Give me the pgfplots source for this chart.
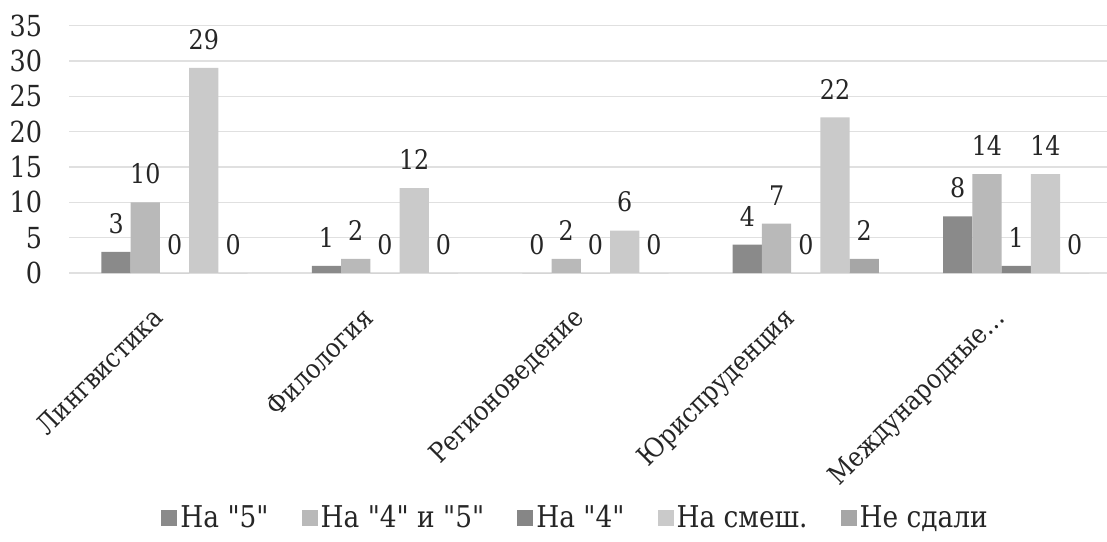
\documentclass[border=0pt]{standalone}
\usepackage{fontspec}
\setmainfont{DejaVu Serif}[Ligatures=NoCommon]
\newfontfamily\ser{DejaVu Serif}[FakeStretch=0.88]
\usepackage{pgfplots}
\pgfplotsset{compat=1.18}
\definecolor{cA}{HTML}{8A8A8A}
\definecolor{cB}{HTML}{B9B9B9}
\definecolor{cC}{HTML}{868686}
\definecolor{cD}{HTML}{CACACA}
\definecolor{cE}{HTML}{A6A6A6}
\begin{document}
\begin{tikzpicture}
\begin{axis}[
  at={(0pt,0pt)}, anchor=south west,
  x=105.2pt, y=3.535pt,
  xmin=-0.5, xmax=4.43, ymin=0, ymax=35,
  ybar, bar width=0.139,
  axis line style={draw=none},
  major tick length=0pt,
  ytick={0,5,...,35},
  xtick={0,1,2,3,4},
  xticklabels={Лингвистика,Филология,Регионоведение,Юриспруденция,Международные…},
  ymajorgrids, grid style={black!12, line width=0.6pt},
  /pgf/number format/assume math mode=true,
  yticklabel style={font=\ser\fontsize{14.5}{17}\selectfont, anchor=east, inner sep=0pt, xshift=-13.5pt, text=black!85},
  xticklabel style={font=\ser\fontsize{13.5}{16}\selectfont, rotate=45, anchor=north east, inner sep=0pt, xshift=-20pt, yshift=-2.8pt, text=black!85},
  nodes near coords,
  nodes near coords style={font=\ser\fontsize{13.5}{16}\selectfont, anchor=south, inner sep=0pt, yshift=9pt, text=black!85},
  clip=false,
  legend columns=5,
  legend style={draw=none, fill=none, at={(0.4885,-0.99)}, anchor=center,
    font=\ser\fontsize{15}{18}\selectfont, text=black!85,
    nodes={inner sep=1.5pt},
    /tikz/every even column/.append style={column sep=15pt}},
  legend image code/.code={\fill[#1,draw=none] (0pt,-4pt) rectangle (8pt,4pt);},
]
\addplot[fill=cA, draw=none, bar shift=-0.278] coordinates {(0,3) (1,1) (2,0) (3,4) (4,8)};
\addplot[fill=cB, draw=none, bar shift=-0.139] coordinates {(0,10) (1,2) (2,2) (3,7) (4,14)};
\addplot[fill=cC, draw=none, bar shift=0] coordinates {(0,0) (1,0) (2,0) (3,0) (4,1)};
\addplot[fill=cD, draw=none, bar shift=0.139] coordinates {(0,29) (1,12) (2,6) (3,22) (4,14)};
\addplot[fill=cE, draw=none, bar shift=0.278] coordinates {(0,0) (1,0) (2,0) (3,2) (4,0)};
\legend{На \char34 5\char34,На \char34 4\char34\ и \char34 5\char34,На \char34 4\char34,На смеш.,Не сдали}
\end{axis}
\pgfresetboundingbox
\path[use as bounding box] (-34.7pt,-134pt) rectangle (518.8pt,136.5pt);
\end{tikzpicture}
\end{document}
